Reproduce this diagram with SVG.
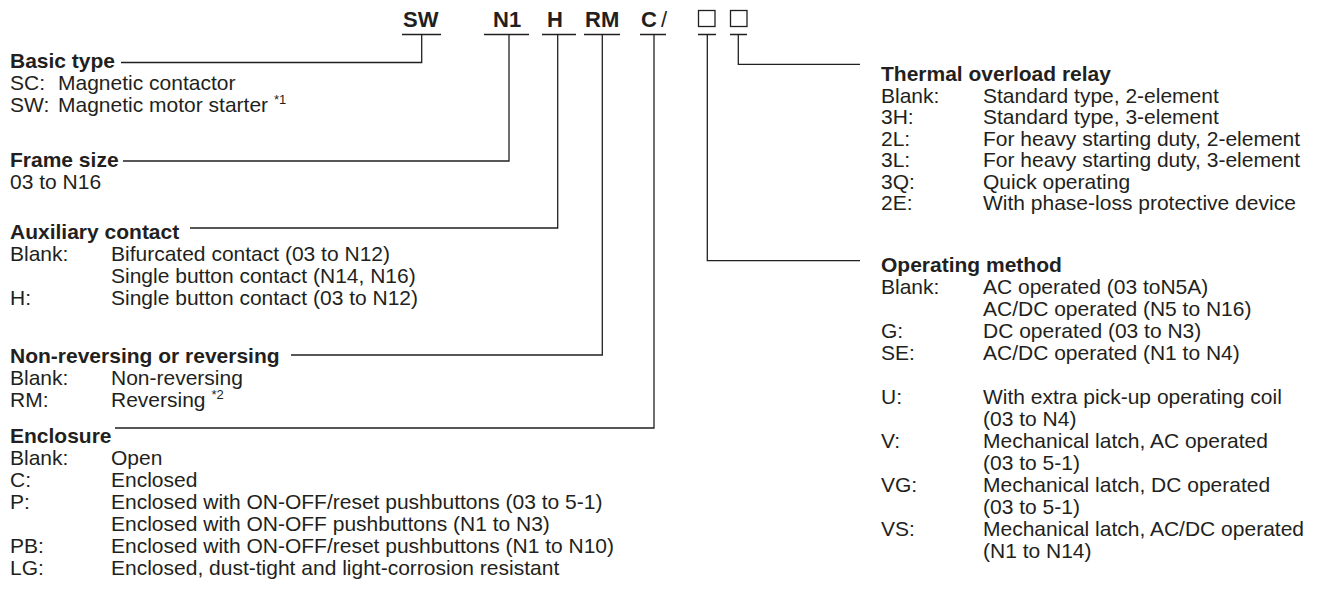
<svg xmlns="http://www.w3.org/2000/svg" width="1320" height="614" viewBox="0 0 1320 614">
<style>
text{font-family:"Liberation Sans",Arial,sans-serif;fill:#231f20;font-size:21px}
.h{font-weight:bold}
.c{font-size:22px;font-weight:bold}
.s{font-size:13px}
.ln{stroke:#231f20;stroke-width:1.3;fill:none}
</style>
<rect width="1320" height="614" fill="#fff"/>
<g id="code">
<text class="c" x="403" y="27">SW</text>
<text class="c" x="493" y="27">N1</text>
<text class="c" x="547" y="27">H</text>
<text class="c" x="585" y="27">RM</text>
<text class="c" x="641" y="27">C</text>
<text x="661" y="27" style="font-size:22px">/</text>
<rect class="ln" x="698.5" y="10.5" width="16.5" height="16"/>
<rect class="ln" x="730.5" y="10.5" width="16.5" height="16"/>
<path class="ln" d="M402 34.5H441M484 34.5H529M542 34.5H576M584 34.5H620M640 34.5H666M698 34.5H716M730 34.5H747"/>
</g>
<g id="connectors">
<path class="ln" d="M421.7 34.5V62.5H121"/>
<path class="ln" d="M509 34.5V161H123"/>
<path class="ln" d="M557.7 34.5V228H190"/>
<path class="ln" d="M602.3 34.5V355H291"/>
<path class="ln" d="M654 34.5V428H115"/>
<path class="ln" d="M707.3 34.5V260.7H860"/>
<path class="ln" d="M738.3 34.5V64.3H860"/>
</g>
<g id="basic-type">
<text class="h" x="10" y="68">Basic type</text>
<text x="10" y="90">SC:</text><text x="58" y="90">Magnetic contactor</text>
<text x="10" y="112">SW:</text><text x="58" y="112">Magnetic motor starter <tspan class="s" dy="-8">*1</tspan></text>
</g>
<g id="frame-size">
<text class="h" x="10" y="167">Frame size</text>
<text x="10" y="189">03 to N16</text>
</g>
<g id="auxiliary-contact">
<text class="h" x="10" y="239">Auxiliary contact</text>
<text x="10" y="261">Blank:</text><text x="111" y="261">Bifurcated contact (03 to N12)</text>
<text x="111" y="283">Single button contact (N14, N16)</text>
<text x="10" y="305">H:</text><text x="111" y="305">Single button contact (03 to N12)</text>
</g>
<g id="reversing">
<text class="h" x="10" y="363">Non-reversing or reversing</text>
<text x="10" y="385">Blank:</text><text x="111" y="385">Non-reversing</text>
<text x="10" y="407">RM:</text><text x="111" y="407">Reversing <tspan class="s" dy="-8">*2</tspan></text>
</g>
<g id="enclosure">
<text class="h" x="10" y="443">Enclosure</text>
<text x="10" y="465">Blank:</text><text x="111" y="465">Open</text>
<text x="10" y="487">C:</text><text x="111" y="487">Enclosed</text>
<text x="10" y="509">P:</text><text x="111" y="509">Enclosed with ON-OFF/reset pushbuttons (03 to 5-1)</text>
<text x="111" y="531">Enclosed with ON-OFF pushbuttons (N1 to N3)</text>
<text x="10" y="553">PB:</text><text x="111" y="553">Enclosed with ON-OFF/reset pushbuttons (N1 to N10)</text>
<text x="10" y="575">LG:</text><text x="111" y="575">Enclosed, dust-tight and light-corrosion resistant</text>
</g>
<g id="thermal-overload-relay">
<text class="h" x="881" y="81">Thermal overload relay</text>
<text x="881" y="102.5">Blank:</text><text x="983" y="102.5">Standard type, 2-element</text>
<text x="881" y="124">3H:</text><text x="983" y="124">Standard type, 3-element</text>
<text x="881" y="145.5">2L:</text><text x="983" y="145.5">For heavy starting duty, 2-element</text>
<text x="881" y="167">3L:</text><text x="983" y="167">For heavy starting duty, 3-element</text>
<text x="881" y="188.5">3Q:</text><text x="983" y="188.5">Quick operating</text>
<text x="881" y="210">2E:</text><text x="983" y="210">With phase-loss protective device</text>
</g>
<g id="operating-method">
<text class="h" x="881" y="272">Operating method</text>
<text x="881" y="294">Blank:</text><text x="983" y="294">AC operated (03 toN5A)</text>
<text x="983" y="316">AC/DC operated (N5 to N16)</text>
<text x="881" y="338">G:</text><text x="983" y="338">DC operated (03 to N3)</text>
<text x="881" y="360">SE:</text><text x="983" y="360">AC/DC operated (N1 to N4)</text>
<text x="881" y="404">U:</text><text x="983" y="404">With extra pick-up operating coil</text>
<text x="983" y="426">(03 to N4)</text>
<text x="881" y="448">V:</text><text x="983" y="448">Mechanical latch, AC operated</text>
<text x="983" y="470">(03 to 5-1)</text>
<text x="881" y="492">VG:</text><text x="983" y="492">Mechanical latch, DC operated</text>
<text x="983" y="514">(03 to 5-1)</text>
<text x="881" y="536">VS:</text><text x="983" y="536">Mechanical latch, AC/DC operated</text>
<text x="983" y="558">(N1 to N14)</text>
</g>
</svg>
